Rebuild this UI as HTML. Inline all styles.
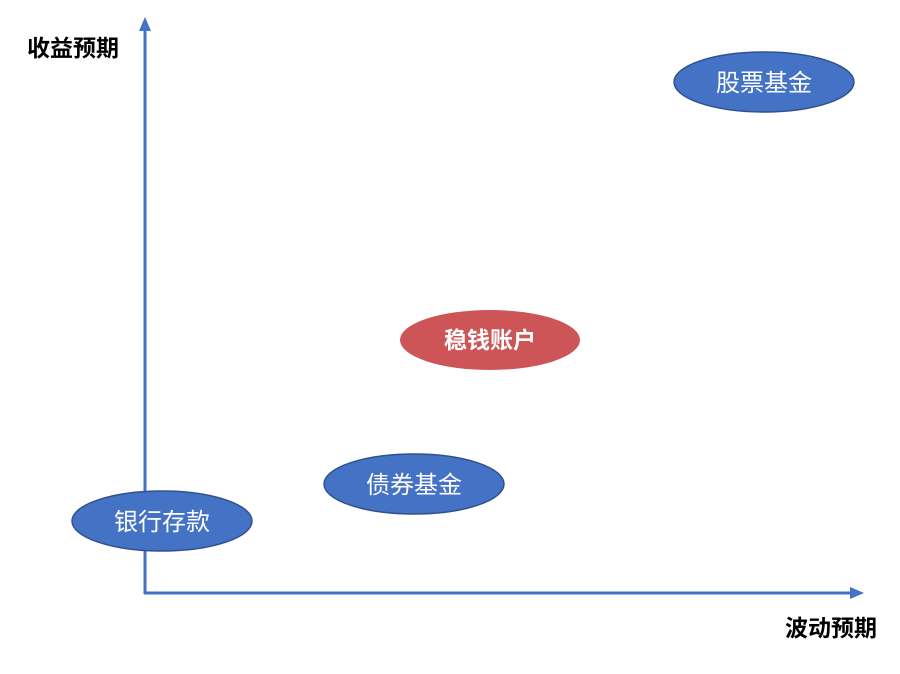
<!DOCTYPE html>
<html><head><meta charset="utf-8"><style>
html,body{margin:0;padding:0;background:#fff;width:900px;height:674px;overflow:hidden}
text{font-family:"Liberation Sans","Noto Sans CJK SC",sans-serif}
</style></head><body>
<svg width="900" height="674" viewBox="0 0 900 674">
<g stroke="#4472c4" stroke-width="3" fill="none">
<line x1="145" y1="28" x2="145" y2="594"/>
<line x1="144" y1="593" x2="853" y2="593"/>
</g>
<polygon points="145,17 139,31 151,31" fill="#4472c4"/>
<polygon points="864,593 850,587 850,599" fill="#4472c4"/>
<g stroke="#2f528f" stroke-width="1.5" fill="#4472c4">
<ellipse cx="764" cy="82" rx="90" ry="30"/>
<ellipse cx="414" cy="484" rx="90" ry="30"/>
<ellipse cx="162" cy="521" rx="90" ry="30"/>
</g>
<ellipse cx="490" cy="340" rx="90" ry="30" fill="#cd5558"/>
<g fill="#fff" font-size="24" text-anchor="middle">
<text x="764" y="91">股票基金</text>
<text x="414" y="493">债券基金</text>
<text x="162" y="530">银行存款</text>
<text x="490" y="348" font-weight="bold" font-size="23">稳钱账户</text>
</g>
<g fill="#000" font-size="23" font-weight="bold">
<text x="27" y="56">收益预期</text>
<text x="785" y="636">波动预期</text>
</g>
</svg>
</body></html>
